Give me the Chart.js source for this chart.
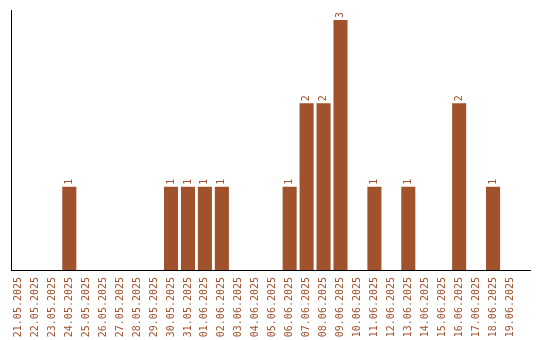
<!DOCTYPE html>
<html>
<head>
<meta charset="utf-8">
<script src="https://cdn.jsdelivr.net/npm/chart.js@4"></script>
<style>
  body { margin: 0; background: #fff; }
  #wrap { width: 540px; height: 340px; }
</style>
</head>
<body>
<div id="wrap"><canvas id="chart" width="540" height="340"></canvas></div>
<script>
// dates on x axis
const dates = [
  "21.05.2025", "22.05.2025", "23.05.2025", "24.05.2025", "25.05.2025",
  "26.05.2025", "27.05.2025", "28.05.2025", "29.05.2025", "30.05.2025",
  "31.05.2025", "01.06.2025", "02.06.2025", "03.06.2025", "04.06.2025",
  "05.06.2025", "06.06.2025", "07.06.2025", "08.06.2025", "09.06.2025",
  "10.06.2025", "11.06.2025", "12.06.2025", "13.06.2025", "14.06.2025",
  "15.06.2025", "16.06.2025", "17.06.2025", "18.06.2025", "19.06.2025"
];
// count per day
const counts = [0, 0, 0, 1, 0, 0, 0, 0, 0, 1, 1, 1, 1, 0, 0, 0, 1, 2, 2, 3, 0, 1, 0, 1, 0, 0, 2, 0, 1, 0];

const barColor = "#a0522d";
const textColor = "#a0522d";

// value labels, rotated like the axis labels
const valueLabels = {
  id: "valueLabels",
  afterDatasetsDraw(chart) {
    const ctx = chart.ctx;
    const meta = chart.getDatasetMeta(0);
    ctx.save();
    ctx.fillStyle = textColor;
    ctx.font = "10px 'DejaVu Sans Mono'";
    ctx.textAlign = "left";
    ctx.textBaseline = "middle";
    meta.data.forEach((bar, i) => {
      const v = counts[i];
      if (!v) return;
      ctx.save();
      ctx.translate(bar.x, bar.y - 2);
      ctx.rotate(-Math.PI / 2);
      ctx.fillText(String(v), 0, 0);
      ctx.restore();
    });
    ctx.restore();
  }
};

new Chart(document.getElementById("chart"), {
  type: "bar",
  data: {
    datasets: [{
      data: counts.map((v, i) => ({ x: i, y: v })),
      backgroundColor: barColor,
      borderWidth: 0,
      barPercentage: 0.83,
      categoryPercentage: 1
    }]
  },
  options: {
    responsive: false,
    animation: false,
    layout: { padding: { left: 11, right: 10, top: 10, bottom: 0 } },
    plugins: { legend: { display: false }, tooltip: { enabled: false } },
    scales: {
      x: {
        type: "linear",
        offset: false,
        min: -0.44,
        max: 30.18,
        grid: { display: false, drawTicks: false },
        border: { display: true, color: "#000", width: 1 },
        afterFit(scale) { scale.height = 70; scale.paddingRight = 0; },
        ticks: {
          stepSize: 1,
          includeBounds: false,
          autoSkip: false,
          minRotation: 90,
          maxRotation: 90,
          padding: 7,
          color: textColor,
          font: { family: "'DejaVu Sans Mono'", size: 10 },
          callback: (v) => dates[v] || ""
        }
      },
      y: {
        min: 0,
        max: 3.12,
        grid: { display: false, drawTicks: false },
        border: { display: true, color: "#000", width: 1 },
        ticks: { display: false },
        afterFit(scale) { scale.width = 0; }
      }
    }
  },
  plugins: [valueLabels]
});
</script>
</body>
</html>
